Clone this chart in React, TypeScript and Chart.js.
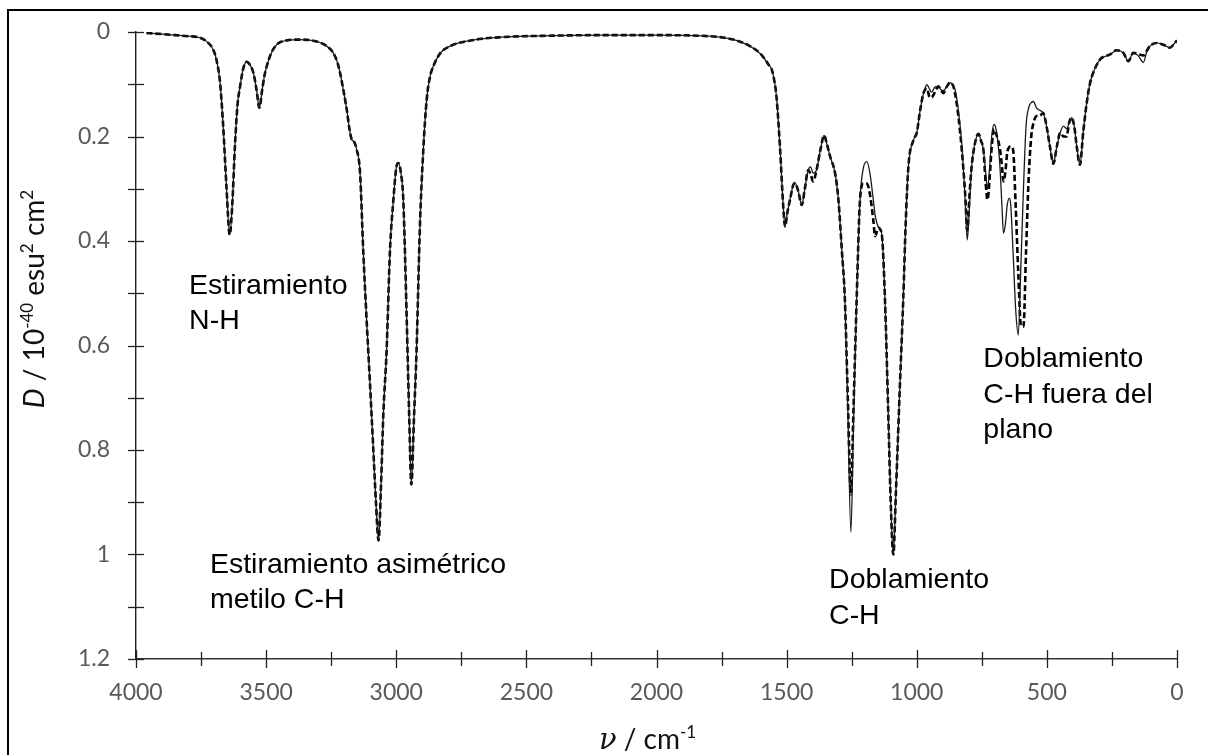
import React, { useEffect, useRef } from 'react';
import { Chart, registerables } from 'chart.js';

Chart.register(...registerables);

// Wavenumber grid (cm^-1)
const wavenumbers = [
  3960, 3900, 3850, 3800, 3754, 3720, 3703, 3690, 3677, 3665, 3652, 3640, 3630, 3620, 3610, 3600,
  3588, 3575, 3562, 3549, 3537, 3526, 3515, 3505, 3498, 3480, 3459, 3420, 3370, 3306, 3270, 3242,
  3225, 3216, 3200, 3190, 3180, 3171, 3162, 3152, 3139, 3127, 3114, 3101, 3088, 3078, 3068, 3058,
  3050, 3037, 3024, 3011, 3000, 2992, 2982, 2973, 2960, 2950, 2942, 2932, 2922, 2909, 2896, 2883,
  2870, 2858, 2830, 2793, 2700, 2600, 2400, 2200, 2000, 1800, 1700, 1641, 1600, 1570, 1557, 1545,
  1538, 1525, 1513, 1506, 1497, 1487, 1476, 1468, 1455, 1442, 1430, 1417, 1408, 1398, 1385, 1370,
  1356, 1345, 1333, 1314, 1301, 1288, 1276, 1265, 1253, 1243, 1231, 1218, 1205, 1192, 1180, 1167,
  1160, 1148, 1135, 1122, 1110, 1100, 1090, 1080, 1065, 1052, 1042, 1032, 1012, 1000, 987, 974,
  961, 950, 943, 930, 917, 908, 898, 885, 872, 860, 853, 840, 827, 814, 806, 797,
  789, 775, 763, 752, 744, 735, 728, 720, 712, 703, 692, 680, 672, 667, 660, 652,
  644, 639, 630, 620, 610, 600, 590, 580, 570, 560, 552, 540, 527, 514, 501, 488,
  475, 462, 449, 436, 424, 415, 405, 395, 385, 373, 360, 347, 335, 322, 296, 257,
  232, 206, 187, 168, 150, 129, 115, 104, 78, 50, 27, 10, 0,
];

// Solid curve D / 10^-40 esu^2 cm^2
const solidD = [
  0.002, 0.004, 0.006, 0.008, 0.011, 0.022, 0.034, 0.055, 0.097, 0.18, 0.30, 0.388, 0.33, 0.22, 0.14, 0.104,
  0.07, 0.057, 0.063, 0.078, 0.11, 0.145, 0.11, 0.08, 0.066, 0.04, 0.024, 0.016, 0.0145, 0.018, 0.026, 0.04,
  0.06, 0.078, 0.12, 0.149, 0.185, 0.206, 0.21, 0.225, 0.27, 0.417, 0.55, 0.672, 0.80, 0.90, 0.973, 0.86,
  0.736, 0.609, 0.417, 0.321, 0.26, 0.251, 0.27, 0.321, 0.545, 0.74, 0.866, 0.74, 0.609, 0.37, 0.225, 0.129,
  0.085, 0.066, 0.04, 0.027, 0.015, 0.010, 0.007, 0.006, 0.006, 0.008, 0.015, 0.027, 0.042, 0.062, 0.072, 0.10,
  0.129, 0.225, 0.334, 0.372, 0.345, 0.321, 0.295, 0.289, 0.305, 0.331, 0.30, 0.264, 0.258, 0.27, 0.264, 0.225,
  0.198, 0.215, 0.238, 0.27, 0.321, 0.417, 0.513, 0.72, 0.957, 0.75, 0.513, 0.321, 0.26, 0.248, 0.27, 0.321,
  0.35, 0.372, 0.385, 0.513, 0.72, 0.90, 1.0, 0.88, 0.68, 0.513, 0.36, 0.257, 0.206, 0.193, 0.15, 0.117,
  0.101, 0.11, 0.115, 0.105, 0.104, 0.11, 0.112, 0.105, 0.097, 0.103, 0.11, 0.15, 0.215, 0.321, 0.398, 0.33,
  0.257, 0.21, 0.195, 0.21, 0.225, 0.27, 0.30, 0.26, 0.20, 0.177, 0.195, 0.26, 0.34, 0.385, 0.37, 0.33,
  0.318, 0.33, 0.42, 0.53, 0.58, 0.45, 0.30, 0.18, 0.145, 0.135, 0.133, 0.145, 0.15, 0.155, 0.181, 0.22,
  0.252, 0.22, 0.193, 0.18, 0.185, 0.175, 0.164, 0.18, 0.22, 0.254, 0.19, 0.136, 0.10, 0.078, 0.053, 0.043,
  0.035, 0.040, 0.056, 0.040, 0.045, 0.058, 0.035, 0.027, 0.021, 0.025, 0.030, 0.022, 0.016,
];

// Dashed curve D / 10^-40 esu^2 cm^2
const dashedD = [
  0.002, 0.004, 0.006, 0.008, 0.011, 0.022, 0.034, 0.055, 0.097, 0.18, 0.30, 0.388, 0.33, 0.22, 0.14, 0.104,
  0.07, 0.057, 0.063, 0.078, 0.11, 0.145, 0.11, 0.08, 0.066, 0.04, 0.024, 0.016, 0.0145, 0.018, 0.026, 0.04,
  0.06, 0.078, 0.12, 0.149, 0.185, 0.206, 0.21, 0.225, 0.27, 0.417, 0.55, 0.672, 0.80, 0.90, 0.973, 0.86,
  0.736, 0.609, 0.417, 0.321, 0.26, 0.251, 0.27, 0.321, 0.545, 0.74, 0.866, 0.74, 0.609, 0.37, 0.225, 0.129,
  0.085, 0.066, 0.04, 0.027, 0.015, 0.010, 0.007, 0.006, 0.006, 0.008, 0.015, 0.027, 0.042, 0.062, 0.072, 0.10,
  0.129, 0.225, 0.334, 0.372, 0.345, 0.321, 0.295, 0.289, 0.305, 0.331, 0.30, 0.264, 0.272, 0.286, 0.264, 0.225,
  0.198, 0.215, 0.238, 0.27, 0.321, 0.417, 0.513, 0.70, 0.885, 0.72, 0.513, 0.321, 0.29, 0.29, 0.31, 0.36,
  0.391, 0.375, 0.385, 0.513, 0.72, 0.90, 1.0, 0.88, 0.68, 0.513, 0.36, 0.257, 0.206, 0.193, 0.15, 0.117,
  0.108, 0.125, 0.125, 0.115, 0.104, 0.11, 0.117, 0.105, 0.097, 0.103, 0.117, 0.161, 0.225, 0.31, 0.38, 0.31,
  0.257, 0.21, 0.195, 0.21, 0.225, 0.29, 0.321, 0.28, 0.22, 0.186, 0.20, 0.225, 0.26, 0.286, 0.27, 0.23,
  0.22, 0.219, 0.225, 0.33, 0.46, 0.56, 0.564, 0.42, 0.28, 0.20, 0.175, 0.161, 0.16, 0.155, 0.181, 0.22,
  0.252, 0.22, 0.193, 0.20, 0.20, 0.175, 0.164, 0.18, 0.22, 0.254, 0.19, 0.136, 0.10, 0.078, 0.053, 0.043,
  0.035, 0.040, 0.056, 0.040, 0.042, 0.045, 0.035, 0.027, 0.021, 0.025, 0.030, 0.022, 0.016,
];

// Labelled tick values
const xLabelTicks = [4000, 3500, 3000, 2500, 2000, 1500, 1000, 500, 0];
const yLabelTicks = [0, 0.2, 0.4, 0.6, 0.8, 1, 1.2];

// Annotation texts
const annotationTexts = [
  ['Estiramiento', 'N-H'],
  ['Estiramiento asimétrico', 'metilo C-H'],
  ['Doblamiento', 'C-H'],
  ['Doblamiento', 'C-H fuera del', 'plano'],
];
// Anchor (wavenumber, D) of the first baseline of each annotation
const annotationAnchors = [
  [3796, 0.501],
  [3716, 1.035],
  [1337, 1.065],
  [744, 0.641],
];

function drawSegments(ctx: CanvasRenderingContext2D, segs: any[], x: number, y: number) {
  let w = 0;
  for (const s of segs) {
    ctx.font = s.font;
    w += ctx.measureText(s.t).width;
  }
  let cx = x - w / 2;
  for (const s of segs) {
    ctx.font = s.font;
    ctx.fillText(s.t, cx, y + (s.dy || 0));
    cx += ctx.measureText(s.t).width;
  }
}

const decorPlugin = {
  id: 'decor',
  afterDraw(chart: any) {
    const ctx: CanvasRenderingContext2D = chart.ctx;
    const xs = chart.scales.x;
    const ys = chart.scales.y;
    ctx.save();
    ctx.strokeStyle = '#222';
    ctx.lineWidth = 1.3;
    const yb = ys.bottom;
    for (const t of xs.ticks) {
      const px = Math.round(xs.getPixelForValue(t.value)) + 0.5;
      const major = xLabelTicks.includes(t.value);
      const len = major ? 9 : 7;
      ctx.beginPath();
      ctx.moveTo(px, yb - len);
      ctx.lineTo(px, yb + len);
      ctx.stroke();
    }
    const xl = xs.left;
    for (const t of ys.ticks) {
      const py = Math.round(ys.getPixelForValue(t.value)) + 0.5;
      ctx.beginPath();
      ctx.moveTo(xl - 8, py);
      ctx.lineTo(xl + 8, py);
      ctx.stroke();
    }

    // annotations
    ctx.fillStyle = '#000';
    ctx.textBaseline = 'alphabetic';
    ctx.textAlign = 'left';
    ctx.font = '28.5px "Liberation Sans", Arial, sans-serif';
    annotationTexts.forEach((lines, i) => {
      const [wn, d] = annotationAnchors[i];
      const px = xs.getPixelForValue(wn);
      const py = ys.getPixelForValue(d);
      lines.forEach((ln, j) => ctx.fillText(ln, px, py + j * 35.7));
    });

    // x-axis title
    ctx.fillStyle = '#111';
    const xt = [
      { t: 'ν', font: 'italic 29px "DejaVu Serif", serif' },
      { t: ' / cm', font: '28px Lato, sans-serif' },
      { t: '-1', font: '17px Lato, sans-serif', dy: -11 },
    ];
    drawSegments(ctx, xt, (xs.left + xs.right) / 2 - 9, 749);

    // y-axis title (rotated)
    ctx.save();
    ctx.translate(44, ys.top + 267);
    ctx.rotate(-Math.PI / 2);
    const yt = [
      { t: 'D', font: 'italic 28px Lato, sans-serif' },
      { t: ' / 10', font: '28px Lato, sans-serif' },
      { t: '-40', font: '17px Lato, sans-serif', dy: -11 },
      { t: ' esu', font: '28px Lato, sans-serif' },
      { t: '2', font: '17px Lato, sans-serif', dy: -11 },
      { t: ' cm', font: '28px Lato, sans-serif' },
      { t: '2', font: '17px Lato, sans-serif', dy: -11 },
    ];
    drawSegments(ctx, yt, 0, 0);
    ctx.restore();

    ctx.restore();
  },
};

export default function App() {
  const canvasRef = useRef<HTMLCanvasElement>(null);

  useEffect(() => {
    const canvas = canvasRef.current;
    if (!canvas) return;
    const solidData = wavenumbers.map((x, i) => ({ x, y: solidD[i] }));
    const dashedData = wavenumbers.map((x, i) => ({ x, y: dashedD[i] }));
    const chart = new Chart(canvas, {
      type: 'line',
      data: {
        datasets: [
          {
            label: 'solid',
            data: solidData,
            borderColor: '#1a1a1a',
            borderWidth: 1.3,
            pointRadius: 0,
            cubicInterpolationMode: 'monotone',
            fill: false,
          },
          {
            label: 'dashed',
            data: dashedData,
            borderColor: '#000',
            borderWidth: 2.6,
            borderDash: [6, 3],
            pointRadius: 0,
            cubicInterpolationMode: 'monotone',
            fill: false,
          },
        ],
      },
      options: {
        responsive: false,
        animation: false,
        devicePixelRatio: 1,
        layout: { padding: { top: 32, right: 31, left: 0, bottom: 0 } },
        plugins: { legend: { display: false }, tooltip: { enabled: false } },
        scales: {
          x: {
            type: 'linear',
            reverse: true,
            min: 0,
            max: 4000,
            afterFit: (s: any) => { s.height = 96; s.paddingLeft = 0; s.paddingRight = 0; },
            grid: { display: false, drawTicks: false },
            border: { display: true, color: '#333', width: 1.4 },
            ticks: {
              stepSize: 250,
              autoSkip: false,
              maxRotation: 0,
              padding: 20,
              color: '#595959',
              font: { family: 'Lato', size: 23 },
              callback: (v: any) => (xLabelTicks.includes(Number(v)) ? String(v) : ''),
            },
          },
          y: {
            type: 'linear',
            reverse: true,
            min: 0,
            max: 1.2,
            afterFit: (s: any) => { s.width = 136; s.paddingTop = 0; s.paddingBottom = 0; },
            grid: { display: false, drawTicks: false },
            border: { display: true, color: '#222', width: 1.4 },
            ticks: {
              stepSize: 0.1,
              autoSkip: false,
              padding: 26,
              color: '#595959',
              font: { family: 'Lato', size: 23 },
              callback: (v: any) => {
                const r = Math.round(Number(v) * 10) / 10;
                return yLabelTicks.some((t) => Math.abs(t - r) < 1e-6) ? String(r) : '';
              },
            },
          },
        },
      },
      plugins: [decorPlugin],
    });
    return () => chart.destroy();
  }, []);

  return (
    <div style={{ position: 'fixed', left: 0, top: 0, width: 1208, height: 755, overflow: 'hidden', background: '#fff' }}>
      <div style={{ position: 'absolute', left: 7, top: 9, width: 1400, height: 1000, border: '2.5px solid #000' }} />
      <canvas ref={canvasRef} width={1208} height={755} style={{ position: 'absolute', left: 0, top: 0, width: 1208, height: 755 }} />
    </div>
  );
}
